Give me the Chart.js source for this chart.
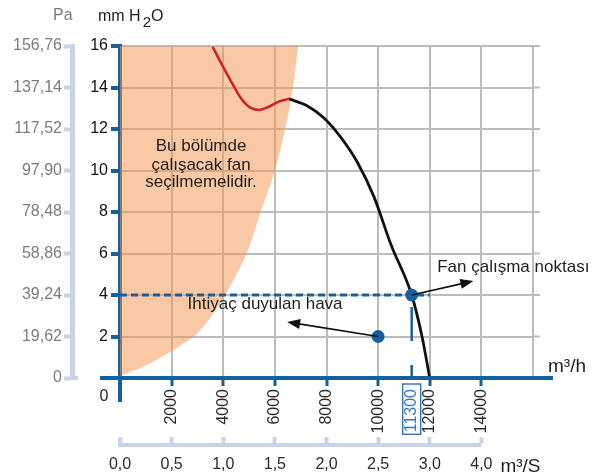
<!DOCTYPE html>
<html><head><meta charset="utf-8">
<script src="https://cdn.jsdelivr.net/npm/chart.js@4/dist/chart.umd.min.js"></script>
<style>html,body{margin:0;padding:0;background:#fff}#wrap{width:600px;height:476px;position:relative}</style>
</head><body><div id="wrap"><canvas id="c"></canvas></div>
<script>
// ---- data ----
const flowTicks = [2000, 4000, 6000, 8000, 10000, 12000, 14000];      // m3/h tick labels
const flowM3sLabels = ['0,0', '0,5', '1,0', '1,5', '2,0', '2,5', '3,0', '4,0']; // m3/S labels
const paLabels = ['0', '19,62', '39,24', '58,86', '78,48', '97,90', '117,52', '137,14', '156,76'];
const redCurveX = [3590, 3950, 4320, 4680, 5040, 5400, 5750, 6150, 6550];
const redCurveY = [15.96, 15.1, 14.26, 13.49, 13.03, 12.92, 13.06, 13.32, 13.45];
const blackCurveX = [6550, 7210, 7880, 8540, 9190, 9840, 10500, 11300, 11700, 12000];
const blackCurveY = [13.45, 13.14, 12.55, 11.62, 10.41, 8.73, 6.42, 4.0, 2.0, 0];
const zoneX = [0, 1000, 2000, 2500, 2900, 3400, 4070, 4900, 5450, 6000, 6400, 6700, 6900];
const zoneY = [0.1, 0.6, 1.3, 1.7, 2.05, 2.75, 4, 6, 8, 10, 12, 14, 16];
const operatingFlow = 11300, operatingPressure = 4;
const requiredFlow = 10000, requiredPressure = 2;
const dashEndFlow = 12000;
const zoneText = ['Bu bölümde', 'çalışacak fan', 'seçilmemelidir.'];
const opText = 'Fan çalışma noktası';
const reqText = 'İhtiyaç duyulan hava';
// annotation anchors in data units
const zoneTextAt = {x: 3140, y: [11.18, 10.27, 9.45]};
const opArrowTip = {x: 13690, y: 4.67};
const opTextAt = {x: 12290, y: 5.35};
const reqArrowTip = {x: 6475, y: 2.7};
const reqTextAt = {x: 5620, y: 3.57};

const BLUE = '#17609f', LIGHT = '#c8d3e6', GRID = '#bcbcbc';
const FONT = "'Liberation Sans', Arial, sans-serif";
const pts = (xs, ys) => xs.map((x, i) => ({x, y: ys[i]}));

function arrow(ctx, x1, y1, x2, y2) {
  const a = Math.atan2(y2 - y1, x2 - x1), L = 13, W = 5;
  ctx.beginPath(); ctx.moveTo(x1, y1); ctx.lineTo(x2 - Math.cos(a) * L * 0.8, y2 - Math.sin(a) * L * 0.8);
  ctx.strokeStyle = '#111'; ctx.lineWidth = 1.6; ctx.stroke();
  ctx.beginPath(); ctx.moveTo(x2, y2);
  ctx.lineTo(x2 - L * Math.cos(a) + W * Math.sin(a), y2 - L * Math.sin(a) - W * Math.cos(a));
  ctx.lineTo(x2 - L * Math.cos(a) - W * Math.sin(a), y2 - L * Math.sin(a) + W * Math.cos(a));
  ctx.closePath(); ctx.fillStyle = '#111'; ctx.fill();
}

const deco = {
  id: 'deco',
  beforeDatasetsDraw(chart) {
    const ctx = chart.ctx, ys = chart.scales.y, a = chart.chartArea;
    ctx.save(); ctx.strokeStyle = GRID; ctx.lineWidth = 2;
    ys.ticks.forEach(t => { if (t.value > 0) { const py = ys.getPixelForValue(t.value);
      ctx.beginPath(); ctx.moveTo(a.right, py); ctx.lineTo(a.right + 7, py); ctx.stroke(); } });
    ctx.restore();
  },
  afterDatasetsDraw(chart) {
    const ctx = chart.ctx, xs = chart.scales.x, ys = chart.scales.y;
    ctx.save();
    arrow(ctx, xs.getPixelForValue(operatingFlow), ys.getPixelForValue(operatingPressure),
      xs.getPixelForValue(opArrowTip.x), ys.getPixelForValue(opArrowTip.y));
    arrow(ctx, xs.getPixelForValue(requiredFlow), ys.getPixelForValue(requiredPressure),
      xs.getPixelForValue(reqArrowTip.x), ys.getPixelForValue(reqArrowTip.y));
    ctx.fillStyle = '#1e1e1e'; ctx.font = '17px ' + FONT; ctx.textBaseline = 'middle';
    ctx.textAlign = 'center';
    zoneText.forEach((t, i) => ctx.fillText(t, xs.getPixelForValue(zoneTextAt.x), ys.getPixelForValue(zoneTextAt.y[i])));
    ctx.fillText(reqText, xs.getPixelForValue(reqTextAt.x), ys.getPixelForValue(reqTextAt.y));
    ctx.textAlign = 'left';
    ctx.fillText(opText, xs.getPixelForValue(opTextAt.x), ys.getPixelForValue(opTextAt.y));
    ctx.restore();
  },
  afterDraw(chart) {
    const ctx = chart.ctx, xs = chart.scales.x, x2 = chart.scales.x2, ys = chart.scales.y, pa = chart.scales.pa;
    const a = chart.chartArea;
    ctx.save();
    // axis extensions
    ctx.strokeStyle = BLUE; ctx.lineWidth = 4;
    ctx.beginPath(); ctx.moveTo(a.left, a.bottom); ctx.lineTo(a.left, a.bottom + 24); ctx.stroke();
    ctx.beginPath(); ctx.moveTo(a.left - 20, a.bottom); ctx.lineTo(a.right + 20, a.bottom); ctx.stroke();
    // m3/S axis line with hook
    const yl = x2.top + 2;
    ctx.strokeStyle = LIGHT; ctx.lineWidth = 4;
    ctx.beginPath(); ctx.moveTo(x2.getPixelForValue(0), yl - 7); ctx.lineTo(x2.getPixelForValue(0), yl);
    ctx.lineTo(x2.getPixelForValue(flowTicks[flowTicks.length - 1]), yl); ctx.stroke();
    // Pa axis bottom hook
    ctx.beginPath(); ctx.moveTo(pa.right - 2, pa.getPixelForValue(0)); ctx.lineTo(pa.right + 6, pa.getPixelForValue(0)); ctx.stroke();
    // 11300 box
    ctx.font = '16px ' + FONT;
    const w = ctx.measureText(String(operatingFlow)).width;
    const px = xs.getPixelForValue(operatingFlow);
    ctx.strokeStyle = '#3b78b6'; ctx.lineWidth = 1.5;
    ctx.strokeRect(px - 9, a.bottom + 6, 18, w + 7);
    // titles
    ctx.fillStyle = '#7b7b7b'; ctx.textBaseline = 'alphabetic'; ctx.textAlign = 'left';
    ctx.font = '16px ' + FONT;
    ctx.fillText('Pa', 53, 20);
    ctx.fillStyle = '#1e1e1e';
    let tx = 98;
    ctx.fillText('mm H', tx, 21); tx += ctx.measureText('mm H').width + 2;
    ctx.font = '15px ' + FONT; ctx.fillText('2', tx, 27); tx += ctx.measureText('2').width;
    ctx.font = '16px ' + FONT; ctx.fillText('O', tx, 21);
    ctx.textAlign = 'center'; ctx.fillText('0', a.left - 16, a.bottom + 23);
    ctx.textAlign = 'left'; ctx.font = '19px ' + FONT;
    ctx.fillText('m³/h', a.right + 15, a.bottom - 6);
    ctx.fillText('m³/S', x2.getPixelForValue(flowTicks[flowTicks.length - 1]) + 19, 472);
    ctx.restore();
  }
};

new Chart(document.getElementById('c'), {
  type: 'scatter',
  data: {
    datasets: [
      {data: [{x: operatingFlow, y: operatingPressure}], pointRadius: 6.5, backgroundColor: BLUE, borderWidth: 0},
      {data: [{x: requiredFlow, y: requiredPressure}], pointRadius: 6.5, backgroundColor: BLUE, borderWidth: 0},
      {data: pts(redCurveX, redCurveY), showLine: true, borderColor: '#d21f26', borderWidth: 2.5, pointRadius: 0, cubicInterpolationMode: 'monotone'},
      {data: pts(blackCurveX, blackCurveY), showLine: true, borderColor: '#111', borderWidth: 2.8, pointRadius: 0, cubicInterpolationMode: 'monotone'},
      {data: [{x: 0, y: operatingPressure}, {x: dashEndFlow, y: operatingPressure}], showLine: true, borderColor: BLUE, borderWidth: 3, borderDash: [7, 4], pointRadius: 0},
      {data: [{x: operatingFlow, y: operatingPressure}, {x: operatingFlow, y: 0}], showLine: true, borderColor: BLUE, borderWidth: 2.5, borderDash: [34, 24], borderDashOffset: 46, pointRadius: 0},
      {data: pts(zoneX, zoneY), showLine: true, borderWidth: 0, borderColor: 'rgba(0,0,0,0)', pointRadius: 0, fill: 'end', backgroundColor: 'rgba(243,148,78,0.5)', tension: 0.4}
    ]
  },
  options: {
    responsive: true, maintainAspectRatio: false, animation: false,
    layout: {padding: {top: 46, right: 67, left: 0, bottom: 0}},
    plugins: {legend: {display: false}, tooltip: {enabled: false}},
    scales: {
      x: {
        type: 'linear', position: 'bottom', min: 0, max: 16000, weight: 0,
        afterBuildTicks: s => { s.ticks = [0, ...flowTicks, 16000, operatingFlow].sort((p, q) => p - q).map(v => ({value: v})); },
        ticks: {autoSkip: false, minRotation: 90, maxRotation: 90, padding: 3, font: {size: 16, family: FONT},
          color: c => c.tick && c.tick.value === operatingFlow ? '#3b78b6' : '#2a2a2a',
          callback: v => (flowTicks.includes(v) || v === operatingFlow) ? String(v) : ''},
        grid: {lineWidth: 2, tickLength: 8, tickWidth: 3,
          color: c => c.tick && c.tick.value === operatingFlow ? 'rgba(0,0,0,0)' : GRID,
          tickColor: c => c.tick && (c.tick.value === operatingFlow || c.tick.value === 16000) ? 'rgba(0,0,0,0)' : BLUE},
        border: {color: BLUE, width: 4},
        afterFit: s => { s.height = 65; }
      },
      x2: {
        type: 'linear', position: 'bottom', min: 0, max: 16000, weight: 1,
        ticks: {stepSize: 2000, autoSkip: false, maxRotation: 0, minRotation: 0, padding: 18, color: '#2a2a2a', font: {size: 16, family: FONT},
          callback: v => { const i = Math.round(v / 2000); return i < flowM3sLabels.length ? flowM3sLabels[i] : ''; }},
        grid: {drawOnChartArea: false, tickLength: -6, tickWidth: 4,
          tickColor: c => c.tick && c.tick.value > flowTicks[flowTicks.length - 1] ? 'rgba(0,0,0,0)' : LIGHT},
        border: {display: false},
        afterFit: s => { s.height = 33; }
      },
      y: {
        min: 0, max: 16, position: 'left', weight: 0,
        ticks: {stepSize: 2, padding: 3, color: '#111', font: {size: 16, family: FONT}, callback: v => v === 0 ? '' : String(v)},
        grid: {color: GRID, lineWidth: 2, tickLength: 9, tickWidth: 4, tickColor: BLUE},
        border: {color: BLUE, width: 4},
        afterFit: s => { s.width = 48; }
      },
      pa: {
        min: 0, max: 16, position: 'left', weight: 1,
        ticks: {stepSize: 2, padding: 2, color: '#7b7b7b', font: {size: 16, family: FONT}, callback: v => paLabels[Math.round(v / 2)]},
        grid: {drawOnChartArea: false, tickLength: 8, tickWidth: 4, tickColor: LIGHT},
        border: {color: LIGHT, width: 5},
        afterFit: s => { s.width = 72; }
      }
    }
  },
  plugins: [deco]
});
</script></body></html>
